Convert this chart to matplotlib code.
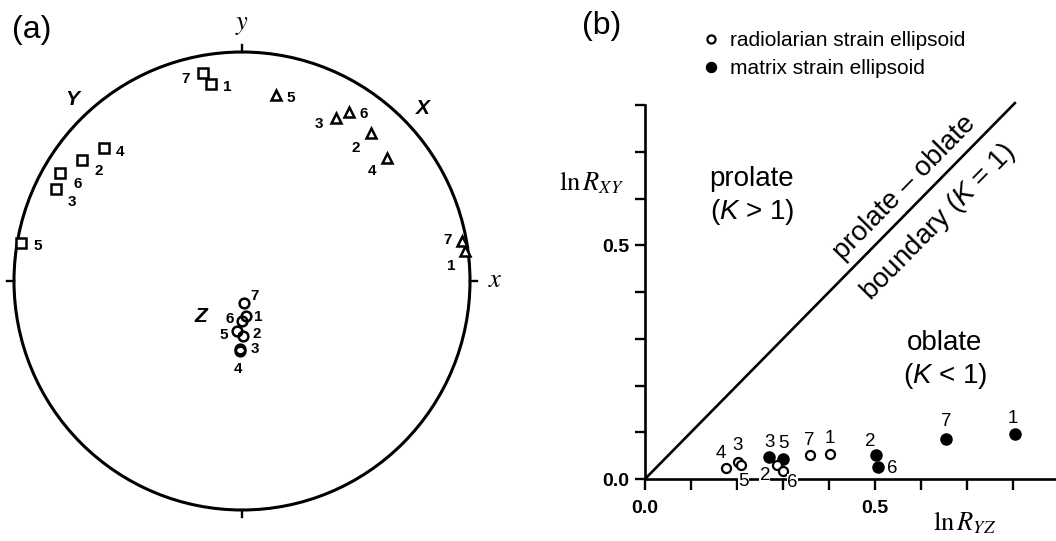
import matplotlib
matplotlib.use("Agg")
import matplotlib.pyplot as plt
from matplotlib.patches import Circle
from matplotlib.ticker import FixedLocator, FixedFormatter

# ---------------- data ----------------
# panel (a): stereographic projection, unit circle coordinates
labels_a = ["1", "2", "3", "4", "5", "6", "7"]
Y_u = [-0.136, -0.703, -0.817, -0.605, -0.971, -0.798, -0.171]
Y_v = [0.861, 0.529, 0.401, 0.581, 0.165, 0.473, 0.907]
X_u = [0.978, 0.567, 0.411, 0.634, 0.149, 0.470, 0.967]
X_v = [0.133, 0.648, 0.713, 0.538, 0.811, 0.739, 0.175]
Z_u = [0.018, 0.006, -0.007, -0.009, -0.023, 0.002, 0.007]
Z_v = [-0.155, -0.238, -0.295, -0.306, -0.218, -0.175, -0.096]

# panel (b): Flinn diagram
rad_labels = ["1", "2", "3", "4", "5", "6", "7"]
rad_lnRyz = [0.402, 0.286, 0.2015, 0.176, 0.209, 0.299, 0.359]
rad_lnRxy = [0.053, 0.030, 0.037, 0.023, 0.030, 0.017, 0.051]
mat_labels = ["1", "2", "3", "5", "6", "7"]
mat_lnRyz = [0.804, 0.502, 0.270, 0.299, 0.506, 0.654]
mat_lnRxy = [0.0955, 0.051, 0.048, 0.042, 0.026, 0.085]
x_ticks = [0.0, 0.1, 0.2, 0.3, 0.4, 0.5, 0.6, 0.7, 0.8]
x_ticklabels = ["0.0", "", "", "", "", "0.5", "", "", ""]
y_ticks = [0.0, 0.1, 0.2, 0.3, 0.4, 0.5, 0.6, 0.7, 0.8]
y_ticklabels = ["0.0", "", "", "", "", "0.5", "", "", ""]
boundary_line = [0.0, 0.804]

# label offsets (pixels)
Y_off = [(16, -3.5), (17, -11), (16, -13), (16, -4.5), (17, -3), (18, -11), (-17, -6)]
X_off = [(-14, -15), (-16, -15), (-17, -6), (-15, -13), (15, -3), (15, -2), (-15, 1)]
Z_off = [(12, -1), (13, 1.5), (15, 0), (-2, -18), (-13, -4), (-13, 2), (11, 7)]
rad_off = [(0, 16), (-11.7, -11), (0, 16.7), (-5.3, 15), (2.3, -16.7), (10, -11.7), (-0.7, 15)]
mat_off = [(-1.7, 16), (-6, 13.3), (0, 14), (0.7, 16), (14, -1.7), (0, 17.7)]

# ---------------- style ----------------
plt.rcParams["font.family"] = ["Liberation Sans", "DejaVu Sans"]
plt.rcParams["mathtext.fontset"] = "custom"
plt.rcParams["mathtext.rm"] = "Liberation Sans"
plt.rcParams["mathtext.it"] = "Liberation Sans:italic"
plt.rcParams["mathtext.bf"] = "Liberation Sans:bold"

W, H = 1056, 541
fig = plt.figure(figsize=(W / 100, H / 100), dpi=100)


def px_axes(left, top, width, height):
    return fig.add_axes([left / W, 1 - (top + height) / H, width / W, height / H])


# ---------------- panel (a) ----------------
lim = 1.06
ax_a = px_axes(242 - lim * 228, 281 - lim * 229, 2 * lim * 228, 2 * lim * 229)
ax_a.set_xlim(-lim, lim)
ax_a.set_ylim(-lim, lim)
ax_a.axis("off")
ax_a.add_patch(Circle((0, 0), 1.0, fill=False, lw=2.2, color="black"))
tk = 0.032
for (x0, y0, x1, y1) in [(0, 1, 0, 1 + tk), (0, -1, 0, -1 - tk), (1, 0, 1 + tk, 0), (-1, 0, -1 - tk, 0)]:
    ax_a.plot([x0, x1], [y0, y1], color="black", lw=1.7, clip_on=False)

ax_a.plot(Y_u, Y_v, ls="none", marker="s", ms=7.5, mfc="white", mec="black", mew=1.8, clip_on=False)
ax_a.plot(X_u, X_v, ls="none", marker="^", ms=6.5, mfc="white", mec="black", mew=1.8, clip_on=False)
ax_a.plot(Z_u, Z_v, ls="none", marker="o", ms=7, mfc="none", mec="black", mew=1.8, clip_on=False)

for us, vs, offs in [(Y_u, Y_v, Y_off), (X_u, X_v, X_off), (Z_u, Z_v, Z_off)]:
    for lab, u, v, off in zip(labels_a, us, vs, offs):
        ax_a.annotate(lab, (u, v), xytext=off, textcoords="offset pixels",
                      ha="center", va="center", fontsize=11, fontweight="bold")

ax_a.text(-0.746, 0.793, "Y", fontsize=15, fontweight="bold", fontstyle="italic", ha="center", va="center")
ax_a.text(0.794, 0.755, "X", fontsize=15, fontweight="bold", fontstyle="italic", ha="center", va="center")
ax_a.text(-0.18, -0.153, "Z", fontsize=15, fontweight="bold", fontstyle="italic", ha="center", va="center")
ax_a.text(0.0, 1.118, r"$y$", fontsize=19, ha="center", va="center", math_fontfamily="stix")
ax_a.text(1.11, 0.004, r"$x$", fontsize=19, ha="center", va="center", math_fontfamily="stix")

fig.text(31.7 / W, 1 - 29.7 / H, "(a)", fontsize=23, ha="center", va="center")
fig.text(602 / W, 1 - 26 / H, "(b)", fontsize=23, ha="center", va="center")

# ---------------- panel (b) ----------------
ax_b = px_axes(645, 105, 411, 374)
ax_b.set_xlim(0, 0.8935)
ax_b.set_ylim(0, 0.8)
for s in ["top", "right"]:
    ax_b.spines[s].set_visible(False)
for s in ["left", "bottom"]:
    ax_b.spines[s].set_linewidth(1.9)
ax_b.xaxis.set_major_locator(FixedLocator(x_ticks))
ax_b.xaxis.set_major_formatter(FixedFormatter(x_ticklabels))
ax_b.yaxis.set_major_locator(FixedLocator(y_ticks))
ax_b.yaxis.set_major_formatter(FixedFormatter(y_ticklabels))
ax_b.tick_params(axis="x", direction="out", length=8, width=1.7, pad=7, labelsize=14)
ax_b.tick_params(axis="y", direction="out", length=7, width=1.7, pad=4, labelsize=14)
for t in ax_b.get_xticklabels() + ax_b.get_yticklabels():
    t.set_fontweight("bold")

ax_b.plot(boundary_line, boundary_line, color="black", lw=1.9, clip_on=False)

h_rad, = ax_b.plot(rad_lnRyz, rad_lnRxy, ls="none", marker="o", ms=6.5, mfc="white", mec="black",
                   mew=1.6, clip_on=False, zorder=4, label="radiolarian strain ellipsoid")
h_mat, = ax_b.plot(mat_lnRyz, mat_lnRxy, ls="none", marker="o", ms=8.0, mfc="black", mec="black",
                   mew=1.0, clip_on=False, zorder=3, label="matrix strain ellipsoid")

for lab, x, y, off in zip(rad_labels, rad_lnRyz, rad_lnRxy, rad_off):
    bb = dict(facecolor="white", edgecolor="none", pad=0.3) if (lab in ("5", "2", "6")) else None
    ax_b.annotate(lab, (x, y), xytext=off, textcoords="offset pixels", ha="center", va="center",
                  fontsize=13.5, bbox=bb, zorder=5, annotation_clip=False)
for lab, x, y, off in zip(mat_labels, mat_lnRyz, mat_lnRxy, mat_off):
    ax_b.annotate(lab, (x, y), xytext=off, textcoords="offset pixels", ha="center", va="center",
                  fontsize=13.5, zorder=5, annotation_clip=False)

ax_b.text(0.232, 0.642, "prolate", fontsize=20, ha="center", va="center")
ax_b.text(0.232, 0.571, r"($K$ > 1)", fontsize=20, ha="center", va="center")
ax_b.text(0.652, 0.291, "oblate", fontsize=20, ha="center", va="center")
ax_b.text(0.652, 0.220, r"($K$ < 1)", fontsize=20, ha="center", va="center")
ax_b.text(0.565, 0.622, "prolate \u2013 oblate", fontsize=20, ha="center", va="center",
          rotation=45.5, rotation_mode="anchor")
ax_b.text(0.637, 0.549, r"boundary ($K$ = 1)", fontsize=20, ha="center", va="center",
          rotation=45.5, rotation_mode="anchor")

ax_b.set_ylabel(r"$\mathrm{ln}\,R_{XY}$", fontsize=19, rotation=0, ha="center", va="center",
                math_fontfamily="stix")
ax_b.yaxis.set_label_coords(-0.131, 0.791)
ax_b.set_xlabel(r"$\mathrm{ln}\,R_{YZ}$", fontsize=19, ha="center", va="center", math_fontfamily="stix")
ax_b.xaxis.set_label_coords(0.778, -0.118)

fig.legend(handles=[h_rad, h_mat], loc="upper left", bbox_to_anchor=(703 / W, 1 - 31 / H),
           frameon=False, fontsize=15, handlelength=0.8, handletextpad=0.5, borderpad=0,
           borderaxespad=0, labelspacing=0.45, markerscale=0.9)

fig.savefig("out.png", dpi=100)
